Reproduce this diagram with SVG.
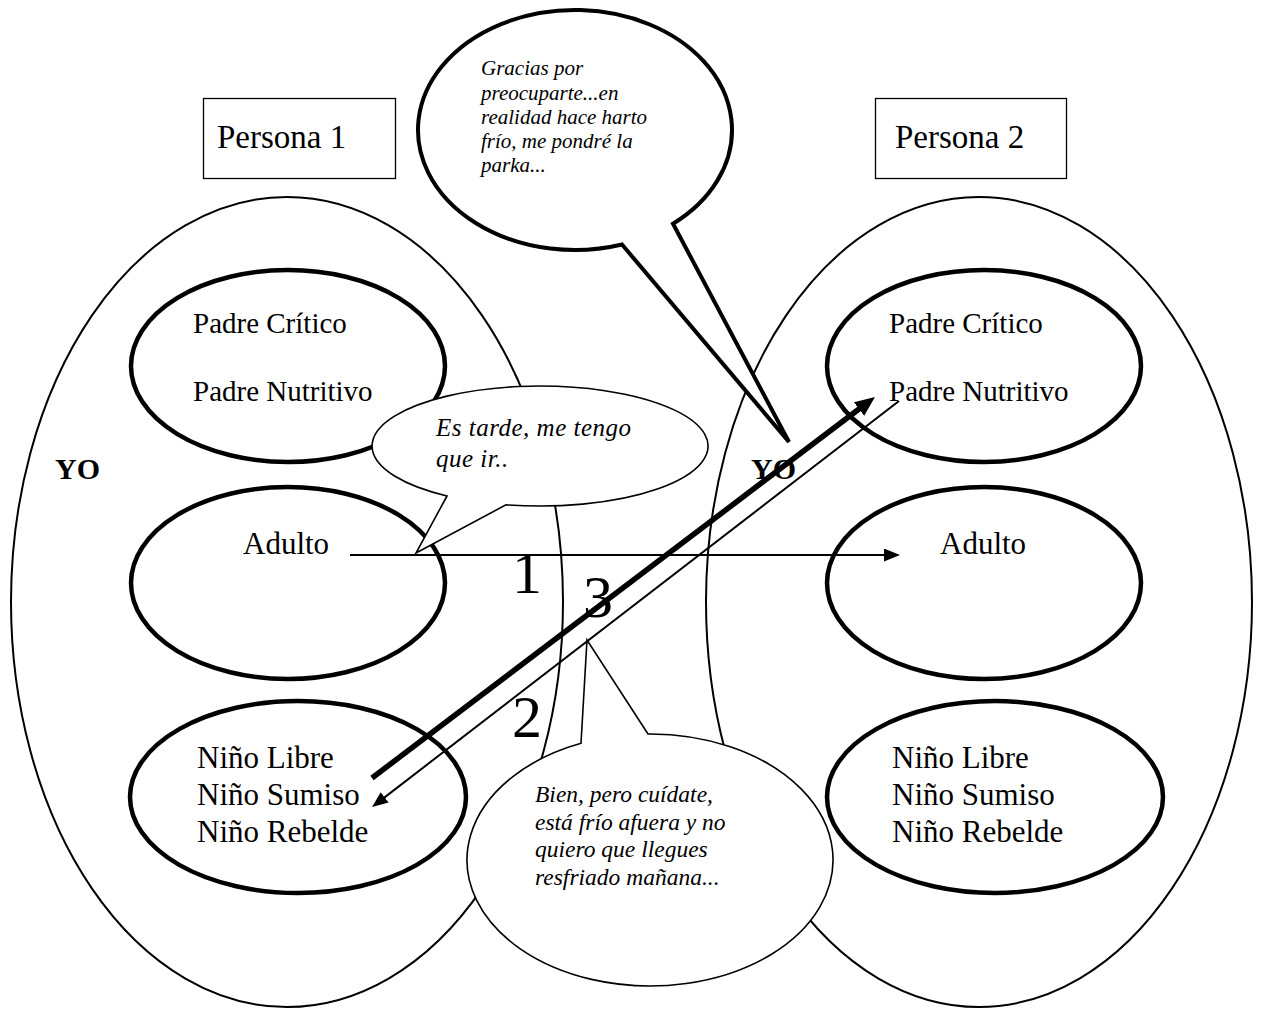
<svg xmlns="http://www.w3.org/2000/svg" width="1262" height="1011" viewBox="0 0 1262 1011">
  <style>
    text { font-family: "Liberation Serif", "Times New Roman", serif; fill: #000; }
    .ego { fill: none; stroke: #000; stroke-width: 2; }
    .state { fill: none; stroke: #000; stroke-width: 4.5; }
    .box { fill: #fff; stroke: #000; stroke-width: 1.3; }
    .bubble-bold { fill: #fff; stroke: #000; stroke-width: 4; stroke-linejoin: miter; }
    .bubble { fill: #fff; stroke: #000; stroke-width: 1.6; stroke-linejoin: miter; }
    .link { fill: none; stroke: #000; stroke-width: 2; }
    .link-bold { fill: none; stroke: #000; stroke-width: 5.5; }
    .label { font-size: 29px; }
    .label-lg { font-size: 31px; }
    .title { font-size: 33px; }
    .yo { font-size: 30px; font-weight: bold; }
    .num { font-size: 60px; }
    .say { font-style: italic; }
  </style>
  <defs>
    <marker id="arrow" viewBox="0 0 16 13" refX="12" refY="6.5" markerWidth="16" markerHeight="13" orient="auto" markerUnits="userSpaceOnUse">
      <path d="M0,0 L16,6.5 L0,13 Z" fill="#000"/>
    </marker>
    <marker id="arrow-bold" viewBox="0 0 20 17" refX="12" refY="8.5" markerWidth="20" markerHeight="17" orient="auto" markerUnits="userSpaceOnUse">
      <path d="M0,0 L20,8.5 L0,17 Z" fill="#000"/>
    </marker>
  </defs>

  <!-- Persona 1: ego outline and its three states -->
  <g id="persona1">
    <ellipse class="ego" cx="287" cy="602" rx="276" ry="405"/>
    <ellipse class="state" cx="288" cy="366" rx="157" ry="96"/>
    <ellipse class="state" cx="288" cy="583" rx="157" ry="96"/>
    <ellipse class="state" cx="298" cy="797" rx="168" ry="96"/>
  </g>

  <!-- Persona 2: ego outline and its three states -->
  <g id="persona2">
    <ellipse class="ego" cx="979" cy="602" rx="273" ry="405"/>
    <ellipse class="state" cx="984" cy="366" rx="157" ry="96"/>
    <ellipse class="state" cx="984" cy="583" rx="157" ry="96"/>
    <ellipse class="state" cx="995" cy="797" rx="168" ry="96"/>
  </g>

  <!-- name boxes -->
  <g id="label-persona1">
    <rect class="box" x="203.5" y="98.5" width="192" height="80"/>
    <text class="title" x="217" y="148">Persona 1</text>
  </g>
  <g id="label-persona2">
    <rect class="box" x="875.5" y="98.5" width="191" height="80"/>
    <text class="title" x="895" y="148">Persona 2</text>
  </g>

  <!-- speech bubbles -->
  <g id="bubble-gracias">
    <path class="bubble-bold" d="M622,244.5 L789,442 L673,223.75 A157 120 0 1 0 622,244.5 Z"/>
    <text class="say" font-size="21" x="481" y="75">Gracias por</text>
    <text class="say" font-size="21" x="481" y="100">preocuparte...en</text>
    <text class="say" font-size="21" x="481" y="124">realidad hace harto</text>
    <text class="say" font-size="21" x="481" y="148">frío, me pondré la</text>
    <text class="say" font-size="21" x="481" y="172">parka...</text>
  </g>
  <g id="bubble-tarde">
    <path class="bubble" d="M447,496 L416,553 L506,504.8 A168 60 0 1 0 447,496 Z"/>
    <text class="say" font-size="25" letter-spacing="0.5" x="436" y="436">Es tarde, me tengo</text>
    <text class="say" font-size="25" letter-spacing="0.5" x="436" y="467">que ir..</text>
  </g>
  <g id="bubble-cuidate">
    <path class="bubble" d="M648,734 L587,640 L581,743.3 A183 126 0 1 0 648,734 Z"/>
    <text class="say" font-size="23.5" x="535" y="802">Bien, pero cuídate,</text>
    <text class="say" font-size="23.5" x="535" y="830">está frío afuera y no</text>
    <text class="say" font-size="23.5" x="535" y="857">quiero que llegues</text>
    <text class="say" font-size="23.5" x="535" y="885">resfriado mañana...</text>
  </g>

  <!-- transactions -->
  <g id="connectors">
    <line class="link" x1="350" y1="555" x2="896" y2="555" marker-end="url(#arrow)"/>
    <line class="link-bold" x1="372" y1="778" x2="868.6" y2="401.8" marker-end="url(#arrow-bold)"/>
    <line class="link" x1="899" y1="401" x2="375.2" y2="804.6" marker-end="url(#arrow)"/>
  </g>

  <!-- transaction numbers -->
  <g id="numbers">
    <text class="num" x="527" y="593" text-anchor="middle">1</text>
    <text class="num" x="598" y="617" text-anchor="middle">3</text>
    <text class="num" x="527" y="737" text-anchor="middle">2</text>
  </g>

  <!-- state labels, Persona 1 -->
  <g id="states-persona1">
    <text class="yo" x="55" y="479">YO</text>
    <text class="label" x="193" y="333">Padre Crítico</text>
    <text class="label" x="193" y="401">Padre Nutritivo</text>
    <text class="label-lg" x="243" y="554">Adulto</text>
    <text class="label-lg" x="197" y="768">Niño Libre</text>
    <text class="label-lg" x="197" y="805">Niño Sumiso</text>
    <text class="label-lg" x="197" y="842">Niño Rebelde</text>
  </g>

  <!-- state labels, Persona 2 -->
  <g id="states-persona2">
    <text class="yo" x="751" y="479">YO</text>
    <text class="label" x="889" y="333">Padre Crítico</text>
    <text class="label" x="889" y="401">Padre Nutritivo</text>
    <text class="label-lg" x="940" y="554">Adulto</text>
    <text class="label-lg" x="892" y="768">Niño Libre</text>
    <text class="label-lg" x="892" y="805">Niño Sumiso</text>
    <text class="label-lg" x="892" y="842">Niño Rebelde</text>
  </g>
</svg>
